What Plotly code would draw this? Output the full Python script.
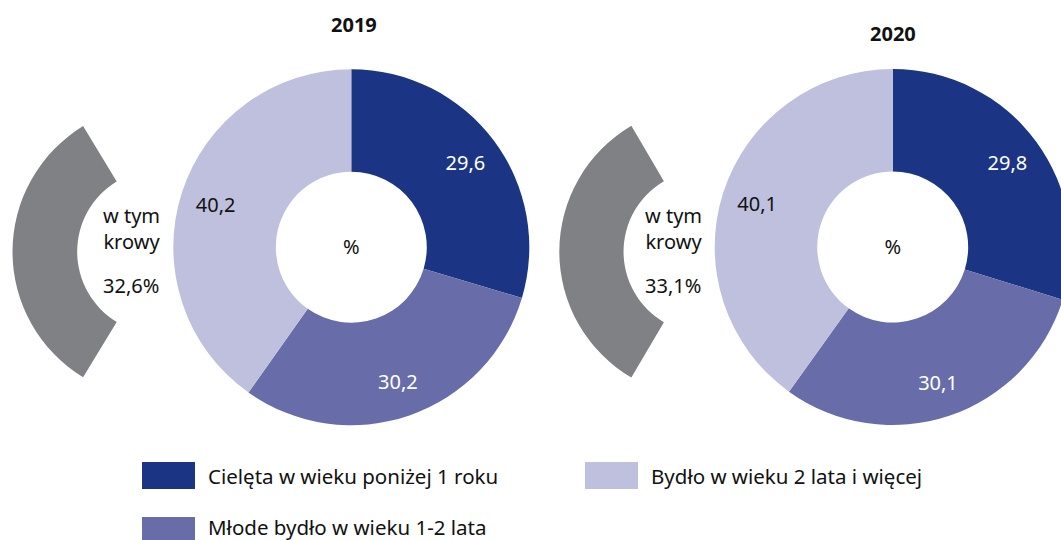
import plotly.graph_objects as go

# ---- data ----
years = ["2019", "2020"]
categories = [
    "Cielęta w wieku poniżej 1 roku",
    "Młode bydło w wieku 1-2 lata",
    "Bydło w wieku 2 lata i więcej",
]
shares_2019 = [29.6, 30.2, 40.2]
shares_2020 = [29.8, 30.1, 40.1]
cows_share = [32.6, 33.1]  # "w tym krowy" for 2019, 2020
cows_label = "w tym<br>krowy"
center_label = "%"

colors = ["#1B3584", "#686DAA", "#BFC0DD"]
grey = "#808184"
text_colors = ["#FFFFFF", "#FFFFFF", "#111111"]
clear = "rgba(0,0,0,0)"

FONT = "Noto Sans, Open Sans, sans-serif"
W, H = 1075, 540


def px(x):
    return x / W


def py(y):
    return 1 - y / H


def dom(cx, cy, r):
    return dict(x=[px(cx - r), px(cx + r)], y=[py(cy + r), py(cy - r)])


fig = go.Figure()

# geometry (layout)
donut_geo = [(351.3, 247.2, 178), (892.7, 247.0, 178)]
grey_geo = [(159.5, 251.7, 147), (705.3, 251.7, 146)]
title_pos = [(354.0, 25), (892.7, 33)]
cow_text_x = [131, 673]

for i, (yr, shares) in enumerate(zip(years, [shares_2019, shares_2020])):
    cow = cows_share[i]
    gx, gy, gr = grey_geo[i]
    # "w tym krowy" sector
    fig.add_trace(go.Pie(
        values=[cow, 100 - cow],
        marker=dict(colors=[grey, clear], line=dict(width=0)),
        hole=0.56,
        sort=False,
        direction="clockwise",
        rotation=270 - cow * 3.6 / 2,
        textinfo="none",
        hoverinfo="skip",
        showlegend=False,
        domain=dom(gx, gy, gr),
    ))
    cx, cy, r = donut_geo[i]
    # main donut
    fig.add_trace(go.Pie(
        labels=categories,
        values=shares,
        marker=dict(colors=colors, line=dict(width=0)),
        hole=0.424,
        sort=False,
        direction="clockwise",
        rotation=0,
        textinfo="none",
        title=dict(text=center_label, position="middle center",
                   font=dict(family=FONT, size=20, color="#111111")),
        showlegend=False,
        domain=dom(cx, cy, r),
    ))
    # value labels (transparent ring, places text nearer the outer edge)
    fig.add_trace(go.Pie(
        labels=categories,
        values=shares,
        marker=dict(colors=[clear] * 3, line=dict(width=0)),
        hole=0.6,
        sort=False,
        direction="clockwise",
        rotation=0,
        texttemplate="%{value:.1f}",
        textposition="inside",
        insidetextorientation="horizontal",
        insidetextfont=dict(family=FONT, size=20, color=text_colors),
        hoverinfo="skip",
        showlegend=False,
        domain=dom(cx, cy, r),
    ))
    tx, ty = title_pos[i]
    fig.add_annotation(x=px(tx), y=py(ty), xref="paper", yref="paper",
                       xanchor="center", yanchor="middle",
                       text=f"<b>{yr}</b>", showarrow=False,
                       font=dict(family=FONT, size=20, color="#111111"))
    fig.add_annotation(x=px(cow_text_x[i]), y=py(228), xref="paper", yref="paper",
                       xanchor="center", yanchor="middle",
                       text=cows_label, showarrow=False, align="center",
                       font=dict(family=FONT, size=20, color="#111111"))
    fig.add_annotation(x=px(cow_text_x[i]), y=py(285), xref="paper", yref="paper",
                       xanchor="center", yanchor="middle",
                       text=f"{cow:.1f}".replace(".", ",") + "%", showarrow=False,
                       font=dict(family=FONT, size=20, color="#111111"))

# legend (custom, large swatches)
legend_items = [(0, 142, 462, 475.5), (2, 585, 462, 475.5), (1, 142, 517, 526.5)]
for idx, lx, ly, ty in legend_items:
    fig.add_shape(type="rect", xref="paper", yref="paper",
                  x0=px(lx), x1=px(lx + 53), y0=py(ly + 27), y1=py(ly),
                  fillcolor=colors[idx], line=dict(width=0))
    fig.add_annotation(x=px(lx + 65), y=py(ty), xref="paper", yref="paper",
                       text=categories[idx], showarrow=False,
                       xanchor="left", yanchor="middle", borderpad=0,
                       font=dict(family=FONT, size=20.5, color="#111111"))

fig.update_layout(
    width=W, height=H,
    margin=dict(l=0, r=0, t=0, b=0),
    paper_bgcolor="white", plot_bgcolor="white",
    separators=", ",
    font=dict(family=FONT),
)

fig.write_html("out.html",
               config={"displayModeBar": False},
               post_script="document.body.style.margin='0';document.body.style.overflow='hidden';")
